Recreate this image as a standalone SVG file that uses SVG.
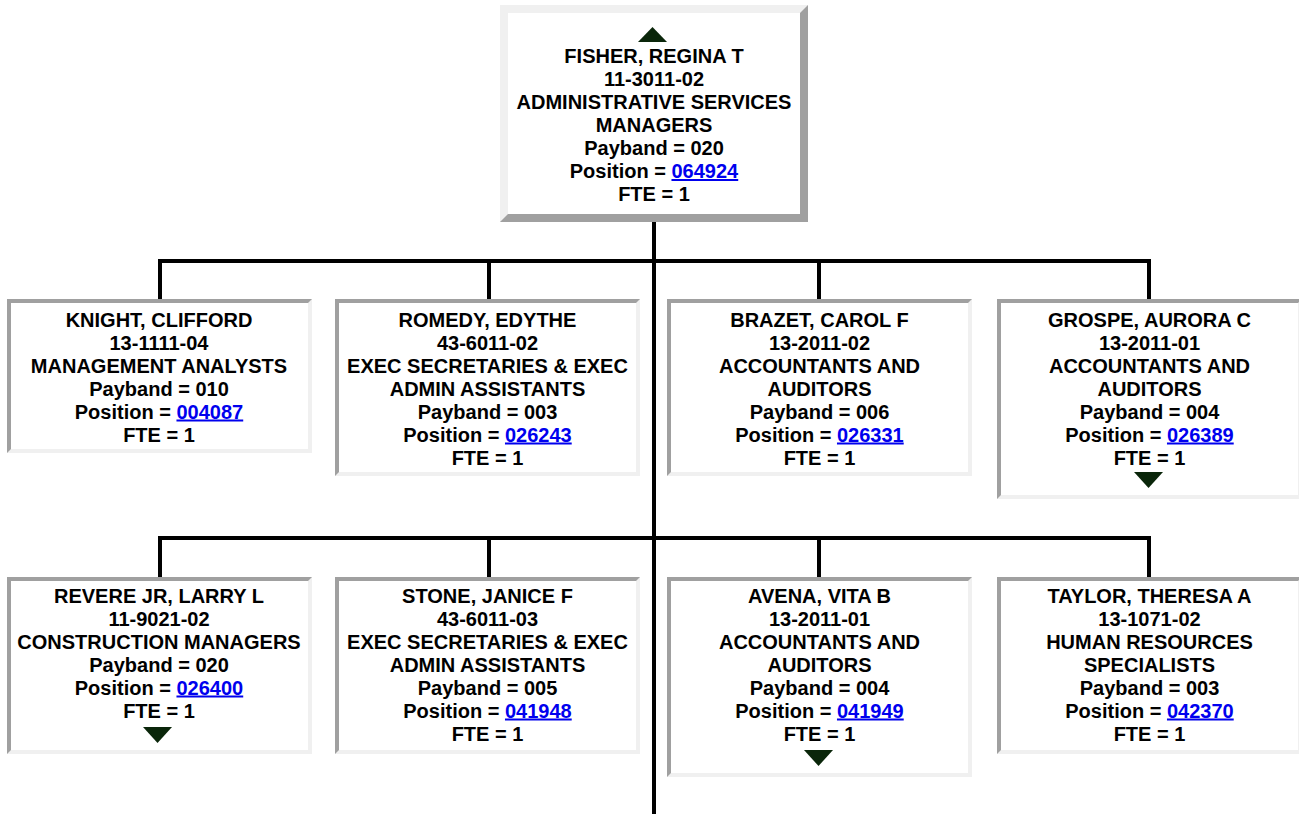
<svg xmlns="http://www.w3.org/2000/svg" width="1299" height="814" viewBox="0 0 1299 814">
<style>
.bg{fill:#fff}
.lt{fill:#f0f0f0}
.dk{fill:#a0a0a0}
.tri{fill:#0a260a}
.conn{fill:none;stroke:#000;stroke-width:4;stroke-linejoin:miter;stroke-linecap:butt}
text{font-family:"Liberation Sans",Arial,Helvetica,sans-serif;font-weight:bold;font-size:20px;fill:#000;text-anchor:middle}
.lnk{fill:#0000ee;text-decoration:underline}
</style>
<rect x="0" y="0" width="1299" height="814" fill="#fff"/>
<g id="connectors">
<path class="conn" d="M654 222 V814"/>
<path class="conn" d="M160 299 V261 H1149 V299"/>
<path class="conn" d="M489 261 V299"/>
<path class="conn" d="M819 261 V299"/>
<path class="conn" d="M160 577 V538 H1149 V577"/>
<path class="conn" d="M489 538 V577"/>
<path class="conn" d="M819 538 V577"/>
</g>
<g id="node-fisher">
<rect class="lt" x="500" y="5" width="308" height="217"/>
<polygon class="dk" points="808,5 808,222 500,222 508,214 800,214 800,13"/>
<rect class="bg" x="508" y="13" width="292" height="201"/>
<polygon class="tri" points="638,42 667,42 652.5,27"/>
<text x="654" y="63">FISHER, REGINA T</text>
<text x="654" y="86">11-3011-02</text>
<text x="654" y="109">ADMINISTRATIVE SERVICES</text>
<text x="654" y="132">MANAGERS</text>
<text x="654" y="155">Payband = 020</text>
<text x="654" y="178">Position = <tspan class="lnk">064924</tspan></text>
<text x="654" y="201">FTE = 1</text>
</g>
<g id="node-knight">
<rect class="dk" x="7" y="299" width="305" height="154"/>
<polygon class="lt" points="312,299 312,453 7,453 11,449 308,449 308,303"/>
<rect class="bg" x="11" y="303" width="297" height="146"/>
<text x="159" y="326.5">KNIGHT, CLIFFORD</text>
<text x="159" y="349.5">13-1111-04</text>
<text x="159" y="372.5">MANAGEMENT ANALYSTS</text>
<text x="159" y="395.5">Payband = 010</text>
<text x="159" y="418.5">Position = <tspan class="lnk">004087</tspan></text>
<text x="159" y="441.5">FTE = 1</text>
</g>
<g id="node-romedy">
<rect class="dk" x="335" y="299" width="305" height="177"/>
<polygon class="lt" points="640,299 640,476 335,476 339,472 636,472 636,303"/>
<rect class="bg" x="339" y="303" width="297" height="169"/>
<text x="487.5" y="326.5">ROMEDY, EDYTHE</text>
<text x="487.5" y="349.5">43-6011-02</text>
<text x="487.5" y="372.5">EXEC SECRETARIES &amp; EXEC</text>
<text x="487.5" y="395.5">ADMIN ASSISTANTS</text>
<text x="487.5" y="418.5">Payband = 003</text>
<text x="487.5" y="441.5">Position = <tspan class="lnk">026243</tspan></text>
<text x="487.5" y="464.5">FTE = 1</text>
</g>
<g id="node-brazet">
<rect class="dk" x="667" y="299" width="305" height="177"/>
<polygon class="lt" points="972,299 972,476 667,476 671,472 968,472 968,303"/>
<rect class="bg" x="671" y="303" width="297" height="169"/>
<text x="819.5" y="326.5">BRAZET, CAROL F</text>
<text x="819.5" y="349.5">13-2011-02</text>
<text x="819.5" y="372.5">ACCOUNTANTS AND</text>
<text x="819.5" y="395.5">AUDITORS</text>
<text x="819.5" y="418.5">Payband = 006</text>
<text x="819.5" y="441.5">Position = <tspan class="lnk">026331</tspan></text>
<text x="819.5" y="464.5">FTE = 1</text>
</g>
<g id="node-grospe">
<rect class="dk" x="997" y="299" width="305" height="200"/>
<polygon class="lt" points="1302,299 1302,499 997,499 1001,495 1298,495 1298,303"/>
<rect class="bg" x="1001" y="303" width="297" height="192"/>
<text x="1149.5" y="326.5">GROSPE, AURORA C</text>
<text x="1149.5" y="349.5">13-2011-01</text>
<text x="1149.5" y="372.5">ACCOUNTANTS AND</text>
<text x="1149.5" y="395.5">AUDITORS</text>
<text x="1149.5" y="418.5">Payband = 004</text>
<text x="1149.5" y="441.5">Position = <tspan class="lnk">026389</tspan></text>
<text x="1149.5" y="464.5">FTE = 1</text>
<polygon class="tri" points="1134,472 1163,472 1148.5,488"/>
</g>
<g id="node-revere">
<rect class="dk" x="7" y="577" width="305" height="177"/>
<polygon class="lt" points="312,577 312,754 7,754 11,750 308,750 308,581"/>
<rect class="bg" x="11" y="581" width="297" height="169"/>
<text x="159" y="602.5">REVERE JR, LARRY L</text>
<text x="159" y="625.5">11-9021-02</text>
<text x="159" y="648.5">CONSTRUCTION MANAGERS</text>
<text x="159" y="671.5">Payband = 020</text>
<text x="159" y="694.5">Position = <tspan class="lnk">026400</tspan></text>
<text x="159" y="717.5">FTE = 1</text>
<polygon class="tri" points="143,727 172,727 157.5,743"/>
</g>
<g id="node-stone">
<rect class="dk" x="335" y="577" width="305" height="177"/>
<polygon class="lt" points="640,577 640,754 335,754 339,750 636,750 636,581"/>
<rect class="bg" x="339" y="581" width="297" height="169"/>
<text x="487.5" y="602.5">STONE, JANICE F</text>
<text x="487.5" y="625.5">43-6011-03</text>
<text x="487.5" y="648.5">EXEC SECRETARIES &amp; EXEC</text>
<text x="487.5" y="671.5">ADMIN ASSISTANTS</text>
<text x="487.5" y="694.5">Payband = 005</text>
<text x="487.5" y="717.5">Position = <tspan class="lnk">041948</tspan></text>
<text x="487.5" y="740.5">FTE = 1</text>
</g>
<g id="node-avena">
<rect class="dk" x="667" y="577" width="305" height="200"/>
<polygon class="lt" points="972,577 972,777 667,777 671,773 968,773 968,581"/>
<rect class="bg" x="671" y="581" width="297" height="192"/>
<text x="819.5" y="602.5">AVENA, VITA B</text>
<text x="819.5" y="625.5">13-2011-01</text>
<text x="819.5" y="648.5">ACCOUNTANTS AND</text>
<text x="819.5" y="671.5">AUDITORS</text>
<text x="819.5" y="694.5">Payband = 004</text>
<text x="819.5" y="717.5">Position = <tspan class="lnk">041949</tspan></text>
<text x="819.5" y="740.5">FTE = 1</text>
<polygon class="tri" points="804,750 833,750 818.5,766"/>
</g>
<g id="node-taylor">
<rect class="dk" x="997" y="577" width="305" height="177"/>
<polygon class="lt" points="1302,577 1302,754 997,754 1001,750 1298,750 1298,581"/>
<rect class="bg" x="1001" y="581" width="297" height="169"/>
<text x="1149.5" y="602.5">TAYLOR, THERESA A</text>
<text x="1149.5" y="625.5">13-1071-02</text>
<text x="1149.5" y="648.5">HUMAN RESOURCES</text>
<text x="1149.5" y="671.5">SPECIALISTS</text>
<text x="1149.5" y="694.5">Payband = 003</text>
<text x="1149.5" y="717.5">Position = <tspan class="lnk">042370</tspan></text>
<text x="1149.5" y="740.5">FTE = 1</text>
</g>
</svg>
